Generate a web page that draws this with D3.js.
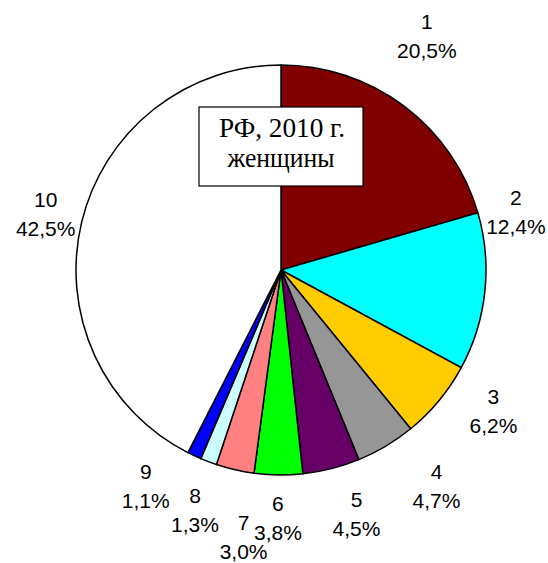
<!doctype html>
<html lang="ru">
  <head>
    <meta charset="UTF-8" />
    <title>РФ, 2010 г. женщины</title>
    <style>
      body { margin: 0; background: #fff; }
      .lbl { font-family: "Liberation Sans", Arial, sans-serif; font-size: 21px; fill: #000; }
      .title { font-family: "Liberation Serif", "Times New Roman", serif; font-size: 28px; fill: #000; }
    </style>
  </head>
  <body>
    <div id="chart"></div>
    <script src="https://d3js.org/d3.v7.min.js"></script>
    <script>
      // data
      const categories = ['1', '2', '3', '4', '5', '6', '7', '8', '9', '10'];
      const values = [20.5, 12.4, 6.2, 4.7, 4.5, 3.8, 3.0, 1.3, 1.1, 42.5];
      const colors = ['#800000', '#00ffff', '#ffcc00', '#969696', '#660066',
                      '#00ff00', '#ff8080', '#ccffff', '#0000ff', '#ffffff'];

      // label nudges (degrees, px) so labels sit like in the original
      const labelAngleShift = [-5, -20, -6, -5, -3, 0, -5, -1, 7, 0];
      const labelRadiusShift = [21, -13, 0, 11, 0, -7, 15, 0, 0, -13];

      const width = 548, height = 563;
      const cx = 281, cy = 270, r = 205, labelR = 255;

      const svg = d3.select('#chart').append('svg').attr('width', width).attr('height', height);
      const g = svg.append('g').attr('transform', `translate(${cx},${cy})`);

      const pie = d3.pie().sort(null).value((d) => d)(values);
      const arc = d3.arc().innerRadius(0).outerRadius(r);

      g.selectAll('path')
        .data(pie)
        .enter()
        .append('path')
        .attr('d', arc)
        .attr('fill', (d, i) => colors[i])
        .attr('stroke', '#000')
        .attr('stroke-width', 1.5)
        .attr('stroke-linejoin', 'round');

      const fmt = (v) => v.toFixed(1).replace('.', ',') + '%';

      const labels = g.selectAll('.lab')
        .data(pie)
        .enter()
        .append('text')
        .attr('class', 'lbl')
        .attr('text-anchor', 'middle')
        .attr('transform', (d, i) => {
          const a = (d.startAngle + d.endAngle) / 2 + labelAngleShift[i] * Math.PI / 180;
          const rr = labelR + labelRadiusShift[i];
          return `translate(${Math.sin(a) * rr},${-Math.cos(a) * rr})`;
        });
      labels.append('tspan').attr('x', 0).attr('y', -7).text((d, i) => categories[i]);
      labels.append('tspan').attr('x', 0).attr('y', 22).text((d) => fmt(d.data));

      // title box
      const tb = svg.append('g').attr('transform', `translate(${cx - 82},107)`);
      tb.append('rect').attr('width', 164).attr('height', 79)
        .attr('fill', '#fff').attr('stroke', '#000').attr('stroke-width', 1.2);
      tb.append('text').attr('class', 'title').attr('x', 83).attr('y', 30)
        .attr('text-anchor', 'middle')
        .attr('textLength', 126).attr('lengthAdjust', 'spacingAndGlyphs')
        .text('РФ, 2010 г.');
      tb.append('text').attr('class', 'title').attr('x', 82).attr('y', 60)
        .attr('text-anchor', 'middle')
        .attr('textLength', 107).attr('lengthAdjust', 'spacingAndGlyphs')
        .text('женщины');
    </script>
  </body>
</html>
